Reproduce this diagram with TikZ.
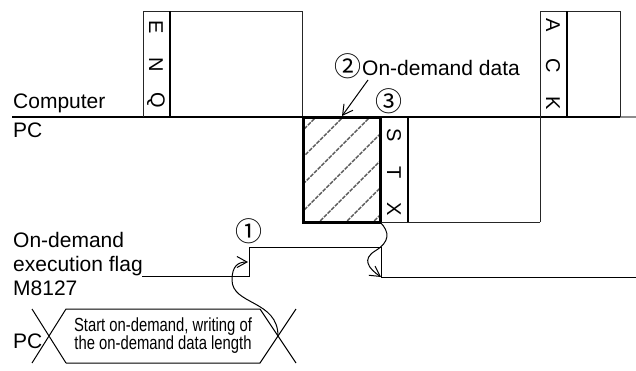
\documentclass[tikz,border=0pt]{standalone}
\usepackage{fontspec}
\setmainfont{Liberation Sans}
\newfontfamily\narrowfont[FakeStretch=0.78]{Liberation Sans}
\newfontfamily\cjk{Noto Sans CJK JP}
\usetikzlibrary{arrows.meta}
\begin{document}
\begin{tikzpicture}[x=1pt,y=-1pt,
  lbl/.style={anchor=base west, inner sep=0pt, font=\fontsize{21}{24}\selectfont},
  vlet/.style={rotate=-90, inner sep=0pt, font=\fontsize{20}{24}\selectfont},
  framel/.style={line width=1pt, draw=black!85},
  sepl/.style={line width=2pt},
  baseln/.style={line width=2pt},
  sig/.style={line width=1pt},
  hatch/.style={line width=1.4pt, draw=black!65, dash pattern=on 4pt off 1.2pt},
  arr/.style={line width=1pt, -{Straight Barb[length=10pt,width=11pt]}},
  circ/.style={inner sep=0pt, font=\cjk\fontsize{27}{28}\selectfont},
  hexbox/.style={line width=1pt},
]
\useasboundingbox (0,0) rectangle (636,370);

% labels
\node[lbl] (comp) at (13,108) {Computer};
\node[lbl] (pc1) at (13,137) {PC};
\node[lbl] (od) at (13,247) {On-demand};
\node[lbl] (ef) at (13,271) {execution flag};
\node[lbl] (m8127) at (13,295) {M8127};
\node[lbl] (pc2) at (13,348) {PC};

% base line Computer / PC
\coordinate (bl0) at (12,117);
\coordinate (bl1) at (620,117);
\coordinate (bl2) at (636,117);
\draw[baseln] (bl0) -- (bl1);
\draw[baseln, draw=black!45] (bl1) -- (bl2);

% ENQ frame
\coordinate (enqA) at (143,117);
\coordinate (enqB) at (143,11);
\coordinate (enqC) at (302,11);
\coordinate (enqD) at (302,117);
\draw[framel] (enqA) -- (enqB) -- (enqC) -- (enqD);
\coordinate (enqS1) at (170,11);
\coordinate (enqS2) at (170,117);
\draw[sepl] (enqS1) -- (enqS2);
\node[vlet] (E) at (156,27) {E};
\node[vlet] (N) at (156,65) {N};
\node[vlet] (Q) at (156,100) {Q};

% ACK frame (left edge continues down into PC frame)
\coordinate (ackA) at (540,222);
\coordinate (ackB) at (540,11);
\coordinate (ackC) at (620,11);
\coordinate (ackD) at (620,117);
\draw[framel] (ackA) -- (ackB) -- (ackC) -- (ackD);
\coordinate (ackS1) at (567,11);
\coordinate (ackS2) at (567,117);
\draw[sepl] (ackS1) -- (ackS2);
\node[vlet] (A) at (553,25) {A};
\node[vlet] (C) at (553,66) {C};
\node[vlet] (K) at (553,103) {K};

% hatched on-demand data block
\begin{scope}
  \clip (303,117) rectangle (380,222);
  \foreach \c in {318,345,...,500} {
    \draw[hatch] (\c,115) -- ++(-115,115);
  }
\end{scope}
\coordinate (hbA) at (303,117);
\coordinate (hbB) at (380,222);
\draw[line width=3pt] (hbA) rectangle (hbB);

% STX frame
\coordinate (stxS1) at (408,117);
\coordinate (stxS2) at (408,222);
\draw[sepl] (stxS1) -- (stxS2);
\coordinate (stxB) at (380,222);
\draw[framel] (stxB) -- (ackA);
\node[vlet] (S) at (394,135) {S};
\node[vlet] (T) at (394,173) {T};
\node[vlet] (X) at (394,209) {X};

% annotations
\node[circ] (c2) at (348,66) {②};
\node[lbl] (odd) at (362,75) {On-demand data};
\node[circ] (c3) at (389,101) {③};
\node[circ] (c1) at (249,231) {①};
\coordinate (a2s) at (368,80);
\coordinate (a2e) at (342,116);
\draw[arr] (a2s) -- (a2e);

% execution flag signal
\coordinate (f0) at (142,276);
\coordinate (f1) at (249,276);
\coordinate (f2) at (249,247);
\coordinate (f3) at (381,247);
\coordinate (f4) at (381,277);
\coordinate (f5) at (636,277);
\draw[sig] (f0) -- (f1) -- (f2) -- (f3) -- (f4) -- (f5);

% PC hexagon
\coordinate (xl1) at (32,309);
\coordinate (xl2) at (66,363);
\coordinate (xl3) at (32,363);
\coordinate (xl4) at (66,309);
\coordinate (xr1) at (260,309);
\coordinate (xr2) at (296,363);
\coordinate (xr3) at (260,363);
\coordinate (xr4) at (296,309);
\draw[hexbox] (xl1) -- (xl2) (xl3) -- (xl4) -- (xr1) -- (xr2)
              (xl2) -- (xr3) -- (xr4);
\node[inner sep=0pt, align=center, font=\narrowfont\fontsize{19}{18}\selectfont] (hx) at (163,336)
  {Start on-demand, writing of\\the on-demand data length};

% curved arrows
\coordinate (xc) at (278,336);
\coordinate (t1) at (248,262);
\draw[arr] (xc) .. controls (278,300) and (232,305) .. (232,280)
                .. controls (232,266) and (238,262) .. (t1);
\coordinate (t2) at (381,277);
\draw[arr] (hbB) .. controls (390,232) and (390,242) .. (375,251)
                 .. controls (362,259) and (368,268) .. (t2);
\end{tikzpicture}
\end{document}
